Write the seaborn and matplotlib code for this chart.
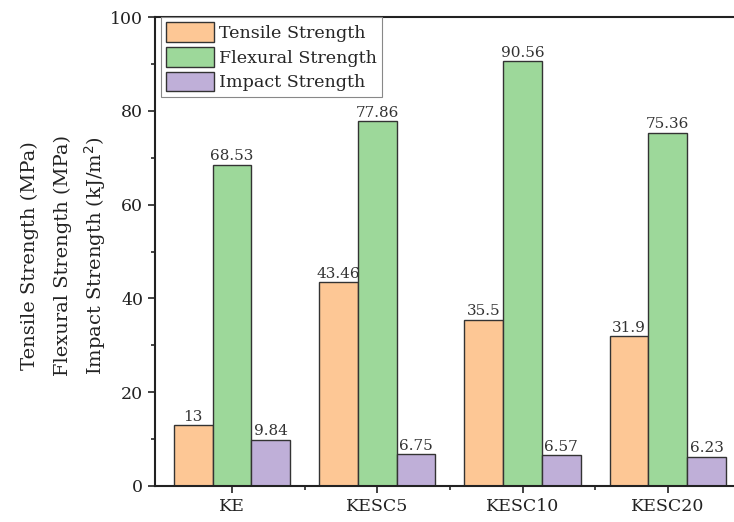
import pandas as pd
import seaborn as sns
import matplotlib.pyplot as plt
from matplotlib.ticker import FixedLocator, MultipleLocator

samples = ['KE', 'KESC5', 'KESC10', 'KESC20']
tensile = [13, 43.46, 35.5, 31.9]
flexural = [68.53, 77.86, 90.56, 75.36]
impact = [9.84, 6.75, 6.57, 6.23]
series = ['Tensile Strength', 'Flexural Strength', 'Impact Strength']
colors = ['#FDC795', '#9DD89A', '#BFAFD8']

df = pd.DataFrame({
    'sample': samples * 3,
    'property': [series[0]] * 4 + [series[1]] * 4 + [series[2]] * 4,
    'value': tensile + flexural + impact,
})

sns.set_style('ticks')
plt.rcParams['font.family'] = ['DejaVu Serif']

fig = plt.figure(figsize=(7.34, 5.22), dpi=100)
ax = fig.add_axes([0.211, 0.069, 0.789, 0.898])

sns.barplot(data=df, x='sample', y='value', hue='property', palette=colors,
            edgecolor='#333333', linewidth=1, saturation=1, ax=ax)

for c in ax.containers:
    ax.bar_label(c, labels=[f"{v:g}" for v in c.datavalues], padding=1,
                 fontsize=11, color='#333333')

ax.set_xlim(-0.53, 3.455)
ax.set_ylim(0, 100)
ax.yaxis.set_major_locator(MultipleLocator(20))
ax.yaxis.set_minor_locator(MultipleLocator(10))
ax.xaxis.set_minor_locator(FixedLocator([0.5, 1.5, 2.5]))
ax.tick_params(which='major', length=5, width=1.2, labelsize=12.5, colors='#222222')
ax.tick_params(which='minor', length=3, width=1.2)
ax.set_xlabel('')
ax.set_ylabel('')
for s in ['left', 'bottom', 'top']:
    ax.spines[s].set_linewidth(1.5)
    ax.spines[s].set_color('#222222')
ax.spines['right'].set_visible(False)

leg = ax.legend(loc='upper left', bbox_to_anchor=(0.01, 1.0), borderaxespad=0,
                fontsize=12.6, handlelength=2.75, handleheight=1.35,
                labelspacing=0.28, handletextpad=0.3, borderpad=0.3,
                fancybox=False, framealpha=1)
leg.get_frame().set_edgecolor('#888888')
leg.get_frame().set_linewidth(0.8)

fig.text(0.041, 0.51, 'Tensile Strength (MPa)', rotation=90, ha='center', va='center', fontsize=14, color='#222222')
fig.text(0.085, 0.51, 'Flexural Strength (MPa)', rotation=90, ha='center', va='center', fontsize=14, color='#222222')
fig.text(0.130, 0.51, 'Impact Strength (kJ/m$^2$)', rotation=90, ha='center', va='center', fontsize=14, color='#222222')

fig.savefig('out.png', dpi=100)
